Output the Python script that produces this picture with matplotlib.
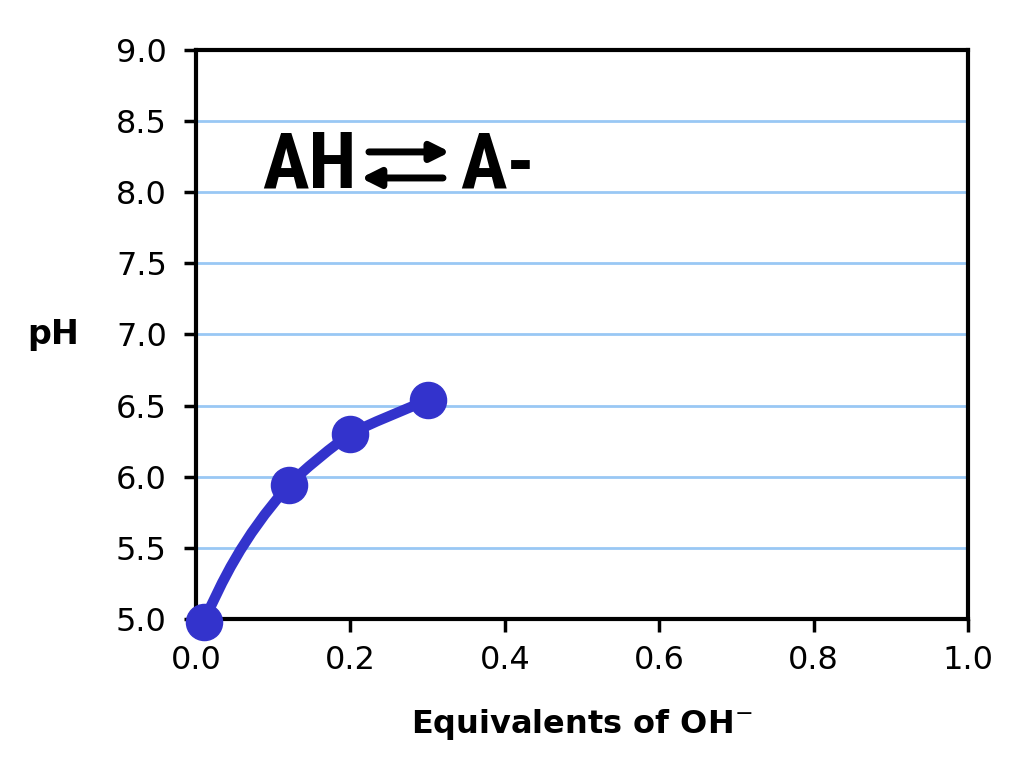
import numpy as np
from matplotlib import pyplot as plt
from matplotlib import font_manager
from matplotlib.path import Path
from matplotlib.patches import PathPatch

# titration readings
equiv = [0.01, 0.12, 0.20, 0.30]
ph = [4.98, 5.94, 6.30, 6.54]
xticks = [0.0, 0.2, 0.4, 0.6, 0.8, 1.0]
yticks = [5.0, 5.5, 6.0, 6.5, 7.0, 7.5, 8.0, 8.5, 9.0]

lineColor = '#3333cc'
gridColor = '#99c8f4'

installed = {f.name for f in font_manager.fontManager.ttflist}
narrow = 'DejaVu Sans'
for name in ['Liberation Sans Narrow', 'DejaVu Sans Condensed', 'Roboto Condensed',
             'Open Sans Condensed']:
    if name in installed:
        narrow = name
        break


def smoothPath(ax, xs, ys, kFirst=0.45, k=0.18):
    # smoothed line through the points, worked out in pixel space
    pts = ax.transData.transform(np.column_stack([xs, ys]))
    n = len(pts)
    chords = [pts[i + 1] - pts[i] for i in range(n - 1)]
    units = [c/np.hypot(*c) for c in chords]
    tang = [units[0]]
    for i in range(1, n - 1):
        t = units[i - 1] + units[i]
        tang.append(t/np.hypot(*t))
    tang.append(units[-1])

    verts = [pts[0]]
    codes = [Path.MOVETO]
    for i in range(n - 1):
        L = np.hypot(*chords[i])
        if i == 0:
            c2 = pts[1] - tang[1]*kFirst*L
            c1 = pts[0] + (c2 - pts[0])/2
        else:
            c1 = pts[i] + tang[i]*k*L
            c2 = pts[i + 1] - tang[i + 1]*k*L
        verts += [c1, c2, pts[i + 1]]
        codes += [Path.CURVE4]*3
    verts = ax.transData.inverted().transform(np.array(verts))
    return Path(verts, codes)


fig = plt.figure(figsize=(10.24, 7.68), dpi=100)
ax = fig.add_axes([0.1914, 0.194, 0.754, 0.741])

ax.set_xlim(0, 1)
ax.set_ylim(5, 9)
ax.set_xticks(xticks)
ax.set_yticks(yticks)
ax.set_xticklabels(['%.1f' % v for v in xticks])
ax.set_yticklabels(['%.1f' % v for v in yticks])

for y in yticks[1:-1]:
    ax.axhline(y, color=gridColor, lw=2, zorder=1)

for s in ax.spines.values():
    s.set_linewidth(3)
    s.set_color('black')

ax.tick_params(axis='both', direction='out', length=9, width=2.5,
               labelsize=23, colors='black')
ax.tick_params(axis='y', pad=12)
ax.tick_params(axis='x', pad=10)

ax.add_patch(PathPatch(smoothPath(ax, equiv, ph), fill=False, edgecolor=lineColor,
                       lw=7.5, zorder=3, clip_on=False, capstyle='round'))
ax.plot(equiv, ph, 'o', color=lineColor, markersize=26, zorder=4, clip_on=False)

ax.set_xlabel('Equivalents of OH$^{-}$', fontsize=23, fontweight='bold', labelpad=22)
fig.text(0.027, 0.565, 'pH', fontsize=24, fontweight='bold', va='center', ha='left')

# AH <=> A- reaction label
eqFont = dict(family=[narrow, 'DejaVu Sans'], fontweight='bold', fontsize=56,
              color='black', va='baseline', ha='left')
ax.text(0.0855, 8.03, 'AH', **eqFont)
ax.text(0.3420, 8.03, 'A-', **eqFont)
arrowStyle = dict(arrowstyle='-|>,head_length=1.1,head_width=0.55', lw=5,
                  color='black', shrinkA=0, shrinkB=0)
ax.annotate('', xy=(0.3290, 8.283), xytext=(0.2240, 8.283), arrowprops=arrowStyle)
ax.annotate('', xy=(0.2135, 8.100), xytext=(0.3199, 8.100), arrowprops=arrowStyle)

fig.savefig('out.png', dpi=100)
